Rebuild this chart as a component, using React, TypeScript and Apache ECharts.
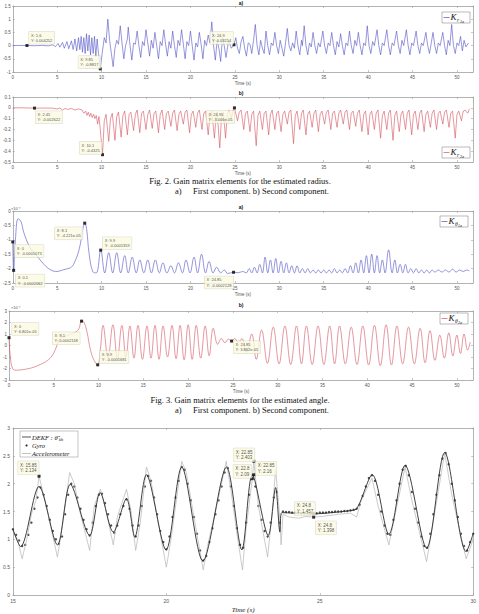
import React, { useEffect, useRef } from "react";
import * as echarts from "echarts";

const W = 479;
const H = 614;

// Fig. 2 a) radius gain, first component K_r1a  [time s, gain]
const kR1a: number[][] = [
  [0,0],[0.8,0.005],[1.6,0.004252],[2.5,-0.005],[3.3,0.01],[4.0,-0.01],[4.5,0.03],[4.8,-0.04],[5.1,0.08],[5.3,-0.06],[5.6,0.12],[5.8,-0.1],[6.1,0.15],[6.3,-0.12],[6.6,0.18],[6.8,-0.15],[7.0,0.25],[7.2,-0.2],[7.4,0.3],[7.55,-0.15],[7.7,0.35],[7.85,-0.25],[8.0,0.3],[8.15,-0.3],[8.3,0.45],[8.45,-0.2],[8.6,0.4],[8.75,-0.35],[8.9,0.3],[9.05,-0.3],[9.2,0.35],[9.35,-0.4],[9.5,0.25],[9.65,-0.3],[9.85,-0.8817],[10.1,-0.2],[10.3,0.3],[10.5,0.1],[10.7,1.0],[10.9,0.2],[11.1,-0.3],[11.3,-0.8],[11.5,-0.1],[11.7,0.2],[11.9,0.05],[12.1,0.75],[12.3,0.1],[12.5,-0.5],[12.7,0.0],[12.9,0.25],[13.0,0.7],[13.2,0.0],[13.4,-0.55],[13.6,0.1],[13.8,0.05],[14.0,0.55],[14.2,0.0],[14.4,-0.45],[14.6,0.15],[14.8,0.0],[15.0,0.6],[15.2,0.1],[15.4,-0.4],[15.6,0.2],[15.8,-0.1],[16.0,0.5],[16.2,0.0],[16.4,-0.5],[16.6,0.15],[16.8,0.0],[17.0,0.6],[17.2,0.05],[17.4,-0.4],[17.6,0.15],[17.8,-0.1],[18.0,0.55],[18.2,0.0],[18.4,-0.45],[18.6,0.2],[18.8,0.0],[19.0,0.6],[19.2,0.05],[19.4,-0.5],[19.6,0.15],[19.8,0.0],[20.0,0.55],[20.2,0.0],[20.4,-0.55],[20.6,0.1],[20.8,-0.05],[21.0,0.5],[21.2,0.05],[21.4,-0.5],[21.6,0.2],[21.8,0.0],[22.0,0.4],[22.2,0.1],[22.4,0.9],[22.6,0.0],[22.8,-0.55],[23.0,0.2],[23.2,-0.1],[23.4,-0.6],[23.6,0.3],[23.8,0.0],[24.0,-0.45],[24.3,0.2],[24.6,-0.1],[24.9,0.03214],[25.1,0.3],[25.3,-0.1],[25.5,-0.3],[25.7,0.15],[25.9,0.35],[26.1,-0.1],[26.3,-0.4],[26.5,0.1],[26.7,0.05],[26.9,-0.3],[27.1,0.2],[27.3,0.8],[27.5,0.0],[27.7,-0.35],[27.9,0.2],[28.1,-0.1],[28.3,-0.3],[28.5,0.55],[28.7,0.0],[28.9,-0.35],[29.1,0.1],[29.3,0.0],[29.5,0.5],[29.7,0.0],[29.9,-0.3],[30.1,0.2],[30.3,-0.1],[30.5,-0.4],[30.7,0.1],[30.9,0.65],[31.1,0.0],[31.3,-0.2],[31.5,0.1],[31.7,-0.1],[31.9,0.55],[32.1,0.0],[32.3,-0.35],[32.5,0.2],[32.6,0.0],[32.8,0.75],[33.0,0.0],[33.2,-0.35],[33.4,0.1],[33.6,-0.05],[33.8,0.5],[34.0,0.0],[34.2,-0.3],[34.4,0.1],[34.6,-0.05],[34.9,0.55],[35.1,0.0],[35.3,-0.3],[35.5,0.1],[35.7,0.0],[35.9,0.5],[36.1,0.0],[36.3,-0.35],[36.5,0.15],[36.7,-0.05],[36.9,0.45],[37.1,0.0],[37.3,-0.35],[37.5,0.1],[37.7,0.0],[37.9,0.55],[38.1,0.0],[38.3,-0.3],[38.5,0.2],[38.7,0.0],[38.9,0.5],[39.1,0.0],[39.3,-0.35],[39.5,0.1],[39.7,0.0],[39.9,0.75],[40.1,0.0],[40.3,-0.3],[40.5,0.15],[40.7,0.0],[41.0,0.6],[41.2,0.0],[41.4,-0.35],[41.6,0.1],[41.8,0.0],[42.1,0.6],[42.3,0.0],[42.5,-0.35],[42.7,0.1],[42.9,0.0],[43.2,0.55],[43.4,0.0],[43.6,-0.3],[43.8,0.2],[44.0,0.0],[44.3,0.6],[44.5,0.0],[44.7,-0.35],[44.9,0.1],[45.1,0.0],[45.4,0.55],[45.6,0.0],[45.8,-0.3],[46.0,0.1],[46.2,0.0],[46.5,0.5],[46.7,0.0],[46.9,-0.3],[47.1,0.1],[47.3,0.5],[47.5,0.0],[47.7,-0.3],[47.9,0.1],[48.1,0.0],[48.4,0.5],[48.6,0.0],[48.8,-0.35],[49.0,0.2],[49.2,0.0],[49.4,0.8],[49.6,0.0],[49.8,-0.3],[50.0,0.1],[50.2,0.0],[50.4,0.35],[50.6,-0.2],[50.8,0.2],[51.0,-0.05],[51.3,0.1],
];

// Fig. 2 b) radius gain, second component K_r2a
const kR2a: number[][] = [
  [0,0],[1,0],[2.45,-0.002622],[3.5,-0.002],[4.5,-0.003],[5.0,-0.01],[5.3,-0.002],[5.6,-0.02],[5.9,-0.005],[6.2,-0.015],[6.6,-0.005],[7.0,-0.02],[7.4,-0.01],[7.8,-0.02],[8.0,-0.05],[8.2,-0.03],[8.35,-0.07],[8.5,-0.04],[8.65,-0.08],[8.8,-0.05],[8.95,-0.09],[9.1,-0.06],[9.25,-0.1],[9.4,-0.07],[9.55,-0.15],[9.7,-0.08],[9.85,-0.2],
  [10.1,-0.4325],[10.3,-0.12],[10.5,-0.06],[10.8,-0.31],[11.0,-0.1],[11.2,-0.05],[11.5,-0.3],[11.7,-0.08],[11.9,-0.04],[12.2,-0.27],[12.4,-0.07],[12.6,-0.03],[12.9,-0.25],[13.1,-0.06],[13.3,-0.04],[13.6,-0.21],[13.8,-0.06],[14.0,-0.02],[14.3,-0.23],[14.5,-0.05],[14.7,-0.03],[15.0,-0.2],[15.2,-0.06],[15.4,-0.02],[15.7,-0.19],[15.9,-0.05],[16.1,-0.03],[16.4,-0.23],[16.6,-0.06],[16.8,-0.02],[17.1,-0.2],[17.3,-0.05],[17.5,-0.03],[17.8,-0.17],[18.0,-0.05],[18.2,-0.02],[18.5,-0.21],[18.7,-0.06],[18.9,-0.03],[19.2,-0.15],[19.4,-0.04],[19.6,-0.02],[19.9,-0.23],[20.1,-0.06],[20.3,-0.03],[20.6,-0.18],[20.8,-0.05],[21.0,-0.02],[21.3,-0.2],[21.5,-0.05],[21.7,-0.03],[22.0,-0.25],[22.2,-0.07],[22.4,-0.03],[22.7,-0.28],[22.9,-0.06],[23.0,-0.04],[23.3,-0.37],[23.5,-0.08],[23.7,-0.04],[23.95,-0.28],[24.15,-0.06],[24.35,-0.02],[24.6,-0.1],[24.8,-0.02],[24.95,-0.00003006],
  [25.3,-0.12],[25.5,-0.04],[25.7,-0.02],[26.0,-0.2],[26.2,-0.05],[26.4,-0.03],[26.7,-0.22],[26.9,-0.06],[27.1,-0.03],[27.4,-0.35],[27.6,-0.07],[27.8,-0.03],[28.1,-0.2],[28.3,-0.05],[28.5,-0.03],[28.8,-0.25],[29.0,-0.06],[29.2,-0.02],[29.5,-0.2],[29.7,-0.05],[29.9,-0.03],[30.2,-0.22],[30.4,-0.06],[30.6,-0.03],[30.9,-0.15],[31.1,-0.04],[31.3,-0.02],[31.6,-0.33],[31.8,-0.07],[32.0,-0.03],[32.3,-0.2],[32.5,-0.05],[32.7,-0.02],[33.0,-0.25],[33.2,-0.06],[33.4,-0.03],[33.7,-0.18],[33.9,-0.05],[34.1,-0.02],[34.4,-0.22],[34.6,-0.06],[34.8,-0.03],[35.1,-0.15],[35.3,-0.04],[35.5,-0.02],[35.8,-0.2],[36.0,-0.05],[36.2,-0.03],[36.5,-0.18],[36.7,-0.05],[36.9,-0.02],[37.2,-0.15],[37.4,-0.04],[37.6,-0.02],[37.9,-0.2],[38.1,-0.05],[38.3,-0.03],[38.6,-0.17],[38.8,-0.05],[39.0,-0.02],[39.3,-0.22],[39.5,-0.06],[39.7,-0.03],[40.0,-0.25],[40.2,-0.06],[40.4,-0.03],[40.7,-0.2],[40.9,-0.05],[41.1,-0.02],[41.4,-0.28],[41.6,-0.07],[41.8,-0.03],[42.1,-0.2],[42.3,-0.05],[42.5,-0.02],[42.8,-0.3],[43.0,-0.07],[43.2,-0.03],[43.5,-0.22],[43.7,-0.06],[43.9,-0.03],[44.2,-0.2],[44.4,-0.05],[44.6,-0.02],[44.9,-0.25],[45.1,-0.06],[45.3,-0.03],[45.6,-0.2],[45.8,-0.05],[46.0,-0.02],[46.3,-0.22],[46.5,-0.06],[46.7,-0.03],[47.0,-0.18],[47.2,-0.05],[47.4,-0.02],[47.7,-0.2],[47.9,-0.05],[48.1,-0.03],[48.4,-0.15],[48.6,-0.04],[48.8,-0.02],[49.1,-0.18],[49.3,-0.05],[49.5,-0.03],[49.8,-0.28],[50.0,-0.06],[50.2,-0.03],[50.5,-0.12],[50.7,-0.03],[50.9,-0.02],[51.2,-0.05],[51.4,-0.01],
];

// Fig. 3 a) angle gain, first component K_theta1a, in units of 1e-4
const kTh1a: number[][] = [
  [0,-1.073],[0.1,-2.062],[0.3,-1.0],[0.6,-0.27],[0.9,-0.35],[1.3,-0.8],[2.0,-1.3],[2.7,-1.55],[3.5,-1.85],[4.3,-2.05],[5.0,-2.1],[5.6,-2.05],[6.2,-2.0],[6.6,-1.95],[7.0,-1.75],[7.5,-1.3],[7.9,-0.6],[8.1,-0.4221],[8.3,-0.6],[8.6,-1.5],[9.0,-2.1],[9.4,-2.15],[9.9,-1.359],[10.35,-2.15],[10.8,-1.45],[11.25,-2.15],[11.7,-1.45],[12.15,-2.15],[12.6,-1.55],[13.0,-2.15],[13.45,-1.6],[13.9,-2.15],[14.3,-1.7],[14.75,-2.15],[15.2,-1.7],[15.6,-2.15],[16.05,-1.7],[16.5,-2.15],[16.9,-1.8],[17.35,-2.15],[17.8,-1.9],[18.2,-2.15],[18.65,-1.8],[19.1,-2.15],[19.5,-1.7],[19.95,-2.15],[20.4,-1.6],[20.8,-2.15],[21.25,-1.5],[21.7,-2.15],[22.1,-1.75],[22.55,-2.15],[22.95,-1.95],[23.4,-2.15],[23.8,-2.05],[24.2,-2.17],[24.85,-2.128],[25.4,-2.14],[25.9,-2.1],[26.3,-2.15],[26.6,-2.0],[26.9,-2.15],[27.2,-1.95],[27.5,-2.15],[27.8,-1.85],[28.1,-2.15],[28.4,-1.6],[28.7,-2.15],[29.0,-1.7],[29.3,-2.15],[29.6,-1.65],[29.9,-2.15],[30.2,-1.75],[30.5,-2.15],[30.8,-1.8],[31.1,-2.15],[31.4,-1.9],[31.7,-2.15],[32.0,-1.9],[32.3,-2.15],[32.6,-2.0],[32.9,-2.15],[33.2,-2.0],[33.5,-2.15],[33.8,-2.05],[34.1,-2.15],[34.4,-2.05],[34.7,-2.15],[35.0,-2.05],[35.3,-2.15],[35.6,-2.05],[35.9,-2.15],[36.2,-2.0],[36.5,-2.15],[36.8,-2.05],[37.1,-2.15],[37.4,-2.0],[37.7,-2.15],[38.0,-1.9],[38.3,-2.15],[38.6,-1.8],[38.9,-2.15],[39.2,-1.7],[39.5,-2.15],[39.8,-1.55],[40.1,-2.15],[40.4,-1.5],[40.7,-2.15],[41.0,-1.55],[41.3,-2.15],[41.6,-1.7],[41.9,-2.15],[42.3,-1.35],[42.7,-2.15],[43.0,-1.7],[43.3,-2.15],[43.6,-1.85],[43.9,-2.15],[44.2,-1.85],[44.5,-2.15],[44.8,-2.0],[45.1,-2.15],[45.4,-2.0],[45.7,-2.15],[46.0,-2.05],[46.3,-2.15],[46.6,-2.05],[46.9,-2.15],[47.2,-2.05],[47.5,-2.12],[47.9,-2.05],[48.3,-2.12],[48.7,-2.05],[49.1,-2.12],[49.5,-2.02],[49.9,-2.12],[50.3,-2.05],[50.7,-2.1],[51.1,-2.05],[51.4,-2.08],
];

// Fig. 3 b) angle gain, second component K_theta2a, in units of 1e-4
const kTh2a: number[][] = [
  [0,0.6801],[0.15,-1.0],[0.4,-2.0],[0.8,-2.15],[1.5,-2.1],[2.5,-1.95],[3.5,-1.65],[4.3,-1.3],[4.8,-0.9],[5.2,-0.3],[5.5,0.3],[5.9,0.7],[6.5,0.85],[7.0,1.0],[7.5,1.2],[7.8,1.45],[8.1,2.118],[8.35,2.05],[8.7,1.2],[9.1,-0.4],[9.5,-1.3],[9.9,-1.681],[10.2,-0.3],[10.5,1.75],[11.05,-1.1],[11.6,1.8],[12.1,-1.2],[12.6,1.75],[13.05,-1.0],[13.5,1.7],[13.95,-1.1],[14.4,1.75],[14.9,-1.2],[15.4,1.7],[15.85,-1.1],[16.3,1.75],[16.75,-1.2],[17.2,1.7],[17.7,-1.0],[18.2,1.75],[18.65,-1.15],[19.1,1.75],[19.55,-1.25],[20.0,1.8],[20.45,-1.2],[20.9,1.75],[21.4,-1.1],[21.9,1.7],[22.35,-0.9],[22.8,1.5],[23.3,0.1],[23.7,0.6],[24.1,0.25],[24.5,0.55],[24.85,0.3862],[25.2,0.6],[25.6,0.3],[26.0,0.6],[26.5,-0.6],[27.1,1.0],[27.6,-1.2],[28.2,1.35],[28.85,-1.55],[29.5,1.6],[30.15,-1.6],[30.8,1.7],[31.45,-1.65],[32.1,1.7],[32.65,-1.6],[33.2,1.7],[33.85,-1.65],[34.5,1.7],[35.15,-1.65],[35.8,1.7],[36.35,-1.6],[36.9,1.7],[37.55,-1.6],[38.2,1.6],[38.85,-1.65],[39.5,1.7],[40.15,-1.7],[40.8,1.75],[41.45,-1.75],[42.1,1.8],[42.7,-1.7],[43.3,1.7],[43.95,-1.6],[44.6,1.6],[45.25,-1.6],[45.9,1.5],[46.45,-1.5],[47.0,1.3],[47.55,-1.3],[48.1,0.9],[48.6,-1.1],[49.1,1.1],[49.55,-0.9],[50.0,0.9],[50.4,-0.7],[50.8,1.0],[51.2,-0.4],[51.5,0.3],
];

// Angle estimate: DEKF output [time s, rad]
const dekf: number[][] = [
  [15.0,1.18],[15.25,0.87],[15.85,1.95],[16.45,0.9],[16.87,1.99],[17.5,1.07],[17.84,1.84],[18.27,1.13],[18.7,1.73],[18.97,1.04],[19.35,2.16],[19.99,0.81],[20.5,2.3],[21.19,0.61],[21.96,2.3],[22.46,0.81],[22.8,2.16],[23.32,1.07],[23.56,1.93],[23.7,1.13],[23.76,1.48],[24.2,1.47],[24.8,1.457],[25.4,1.48],[25.9,1.51],[26.2,1.55],[26.71,2.16],[27.25,1.09],[27.78,2.33],[28.48,0.84],[29.07,2.56],[29.77,0.78],[30.0,1.1],
];

// Gyro-based angle, sampled every 0.1 s from 15 s
const GYRO_T0 = 15;
const GYRO_DT = 0.1;
const gyro: number[] = [
  1.18,1.08,0.98,0.88,0.9,1.08,1.3,1.55,1.75,1.93,
  1.8,1.6,1.35,1.15,1.0,0.92,1.05,1.45,1.8,2.0,
  1.95,1.75,1.55,1.35,1.18,1.07,1.3,1.6,1.8,1.82,
  1.65,1.45,1.25,1.12,1.25,1.45,1.6,1.72,1.55,1.25,
  1.05,1.25,1.6,1.95,2.14,2.05,1.75,1.45,1.15,0.95,
  0.82,1.05,1.4,1.75,2.05,2.3,2.25,2.0,1.7,1.4,
  1.1,0.8,0.62,0.7,0.95,1.2,1.45,1.7,1.95,2.2,
  2.28,1.95,1.6,1.2,0.9,0.85,1.3,1.8,2.15,1.95,
  1.6,1.35,1.15,1.05,1.3,1.75,1.85,1.3,1.5,1.49,
  1.49,1.48,1.48,1.48,1.47,1.47,1.47,1.46,1.47,1.47,
  1.48,1.48,1.48,1.49,1.49,1.5,1.5,1.5,1.51,1.51,
  1.52,1.53,1.55,1.62,1.78,1.95,2.1,2.15,2.05,1.8,
  1.5,1.25,1.1,1.08,1.35,1.7,2.0,2.25,2.32,2.15,
  1.85,1.55,1.3,1.05,0.88,0.85,1.1,1.45,1.8,2.15,
  2.45,2.55,2.35,2.0,1.7,1.4,1.1,0.88,0.8,0.95,
  1.1,
];

// Accelerometer-based angle [time s, rad]
const accel: number[][] = [
  [15.0,1.15],[15.15,1.0],[15.3,0.65],[15.45,1.0],[15.6,1.45],[15.75,1.7],[15.85,2.134],[16.0,1.8],[16.2,1.3],[16.45,0.68],[16.6,1.2],[16.85,2.2],[17.0,2.0],[17.2,1.45],[17.5,0.8],[17.65,1.6],[17.85,1.9],[18.0,1.6],[18.27,0.9],[18.4,1.4],[18.7,1.9],[18.85,1.5],[19.0,0.8],[19.15,1.3],[19.35,2.3],[19.5,2.05],[19.7,1.4],[20.0,0.5],[20.15,1.0],[20.5,2.4],[20.65,2.2],[20.9,1.4],[21.2,0.45],[21.35,0.9],[21.7,1.75],[21.95,2.4],[22.1,1.9],[22.3,1.1],[22.48,0.45],[22.6,1.2],[22.8,2.09],[22.85,2.403],[23.0,1.6],[23.3,0.68],[23.45,1.5],[23.56,2.25],[23.68,1.5],[23.74,0.9],[23.8,1.45],[24.0,1.4],[24.3,1.38],[24.55,1.41],[24.8,1.398],[25.2,1.42],[25.6,1.45],[26.0,1.47],[26.2,1.4],[26.35,1.7],[26.7,2.1],[26.9,1.6],[27.25,0.9],[27.4,1.3],[27.78,2.3],[28.0,1.7],[28.48,0.6],[28.6,1.0],[29.07,2.55],[29.3,1.8],[29.77,0.65],[30.0,1.0],
];

// Data tips: [x, y, text, box dx, box dy]
type Tip = [number, number, string, number, number];
const tipsR1a: Tip[] = [
  [1.6, 0.004252, "X: 1.6\nY: 0.004252", 2, -14],
  [9.85, -0.8817, "X: 9.85\nY: -0.8817", -22, -13],
  [24.9, 0.03214, "X: 24.9\nY: 0.03214", -24, -13],
];
const tipsR2a: Tip[] = [
  [2.45, -0.002622, "X: 2.45\nY: -0.002622", 1, 3],
  [10.1, -0.4325, "X: 10.1\nY: -0.4325", -23, -13],
  [24.95, -0.00003006, "X: 24.95\nY: -3.006e-05", -28, 3],
];
const tipsTh1a: Tip[] = [
  [0, -1.073, "X: 0\nY: -0.0001073", 2, 3],
  [0.1, -2.062, "X: 0.1\nY: -0.0002062", 2, 4],
  [8.1, -0.4221, "X: 8.1\nY: -4.221e-05", -30, 4],
  [9.9, -1.359, "X: 9.9\nY: -0.0001359", 2, -13],
  [24.85, -2.128, "X: 24.85\nY: -0.0002128", -29, 4],
];
const tipsTh2a: Tip[] = [
  [0, 0.6801, "X: 0\nY: 6.801e-05", 3, -15],
  [8.1, 2.118, "X: 8.1\nY: 0.0002118", -29, 11],
  [9.9, -1.681, "X: 9.9\nY: -0.0001681", 2, -14],
  [24.85, 0.3862, "X: 24.85\nY: 3.862e-05", 2, 0],
];
const tipsAngle: Tip[] = [
  [15.85, 2.134, "X: 15.85\nY: 2.134", -21, -15],
  [22.85, 2.403, "X: 22.85\nY: 2.403", -20, -13],
  [22.8, 2.09, "X: 22.8\nY: 2.09", -19, -14],
  [22.85, 2.16, "X: 22.85\nY: 2.16", 2, -13],
  [24.8, 1.457, "X: 24.8\nY: 1.457", -19, -12],
  [24.8, 1.398, "X: 24.8\nY: 1.398", 2, 4],
];

const BLUE = "#5050c4";
const RED = "#d4535e";
const AXIS = "#a0a0a0";
const TICKTXT = "#555";
const SANS = "Liberation Sans";
const SERIF = "Liberation Serif";

const grids = [
  { left: 9, top: 6, width: 464, height: 66 },
  { left: 9, top: 97, width: 464, height: 65 },
  { left: 9, top: 211, width: 464, height: 72 },
  { left: 9, top: 311, width: 464, height: 69 },
  { left: 12, top: 428, width: 466, height: 174 },
];

function xAxesFor(g: number, min: number, max: number, interval: number, fs: number, nameStyle: any, nameGap: number) {
  const common = {
    type: "value", gridIndex: g, min, max, interval,
    axisLine: { show: true, onZero: false, lineStyle: { color: AXIS, width: 0.8 } },
    axisTick: { inside: true, length: 2, lineStyle: { color: AXIS, width: 0.6 } },
    splitLine: { show: false },
  };
  return [
    {
      ...common, position: "bottom",
      axisLabel: { fontSize: fs, color: TICKTXT, margin: 3, fontFamily: SANS, showMaxLabel: max % interval === 0 },
      name: "Time (s)", nameLocation: "middle", nameGap, nameTextStyle: nameStyle,
    },
    { ...common, position: "top", axisLabel: { show: false } },
  ];
}

function yAxesFor(g: number, min: number, max: number, interval: number, fs: number, margin: number) {
  const common = {
    type: "value", gridIndex: g, min, max, interval,
    axisLine: { show: true, onZero: false, lineStyle: { color: AXIS, width: 0.8 } },
    axisTick: { inside: true, length: 2, lineStyle: { color: AXIS, width: 0.6 } },
    splitLine: { show: false },
  };
  return [
    { ...common, position: "left", axisLabel: { fontSize: fs, color: TICKTXT, margin, fontFamily: SANS } },
    { ...common, position: "right", axisLabel: { show: false } },
  ];
}

function tipSeries(g: number, tips: Tip[], fs: number) {
  return {
    type: "scatter", xAxisIndex: 2 * g, yAxisIndex: 2 * g, z: 10,
    symbol: "rect", symbolSize: 3, itemStyle: { color: "#000" },
    data: tips.map(([x, y, text, dx, dy]) => ({
      value: [x, y], tip: text,
      label: { position: [dx + 1.5, dy + 1.5] },
    })),
    label: {
      show: true, formatter: (p: any) => p.data.tip,
      fontSize: fs, lineHeight: fs + 1.2, color: "#222", fontFamily: SANS,
      backgroundColor: "#fafae2", borderColor: "#c9c9b0", borderWidth: 0.4,
      padding: [1, 2], align: "left", verticalAlign: "top",
    },
  };
}

function lineSeries(g: number, data: number[][], color: string, smooth: number | boolean, width = 0.6) {
  return {
    type: "line", xAxisIndex: 2 * g, yAxisIndex: 2 * g, data,
    showSymbol: false, smooth, lineStyle: { color, width },
  };
}

function txt(x: number, y: number, text: string, fontSize: number, extra: any = {}) {
  return {
    type: "text", x, y, z: 100,
    style: {
      text, fontSize, fontFamily: extra.fontFamily || SERIF, fontStyle: extra.fontStyle || "normal",
      fontWeight: extra.fontWeight || "normal", fill: extra.fill || "#111",
      textAlign: extra.align || "left", textVerticalAlign: extra.valign || "middle",
    },
  };
}

// small MATLAB-style legend box with a K gain symbol
function kLegend(x: number, y: number, color: string, sub1: string, sub2: string) {
  return [
    { type: "rect", z: 100, shape: { x, y, width: 28, height: 11 }, style: { fill: "#fff", stroke: "#777", lineWidth: 0.5 } },
    { type: "line", z: 101, shape: { x1: x + 1.5, y1: y + 5.5, x2: x + 7.5, y2: y + 5.5 }, style: { stroke: color, lineWidth: 0.7 } },
    txt(x + 8.5, y + 5.3, "K", 9, { fontStyle: "italic" }),
    txt(x + 15, y + 7.6, sub1, 5.5, { fontStyle: "italic" }),
    txt(x + 18, y + 9, sub2, 4, { fontStyle: "italic" }),
  ];
}

const caption = (y: number, text: string) => [
  txt(240, y, text, 8.5, { align: "center" }),
  txt(175, y + 10, "a)", 8.5),
  txt(193, y + 10, "First component. b) Second component.", 8.5),
];

export default function App() {
  const ref = useRef<HTMLDivElement>(null);

  useEffect(() => {
    if (!ref.current) return;
    const chart = echarts.init(ref.current, null, { renderer: "svg", width: W, height: H });

    const smallName = { fontSize: 4.5, color: TICKTXT, fontFamily: SANS };
    const bigName = { fontSize: 7, color: "#222222", fontFamily: SERIF, fontStyle: "italic" };

    const xAxis = [
      ...xAxesFor(0, 0, 51.8, 5, 4.5, smallName, 6.5),
      ...xAxesFor(1, 0, 51.8, 5, 4.5, smallName, 6.5),
      ...xAxesFor(2, 0, 51.8, 5, 4.5, smallName, 6.5),
      ...xAxesFor(3, 0, 51.8, 5, 4.5, smallName, 6.5),
      ...xAxesFor(4, 15, 30, 5, 5, bigName, 11),
    ];
    const yAxis = [
      ...yAxesFor(0, -1, 1.5, 0.5, 4.5, 2),
      ...yAxesFor(1, -0.5, 0.1, 0.1, 4.5, 2),
      ...yAxesFor(2, -2.5, 0, 0.5, 4.5, 2),
      ...yAxesFor(3, -3, 3, 1, 4.5, 2),
      ...yAxesFor(4, 0, 3, 0.5, 5, 3),
    ];

    const gyroData = gyro.map((v, i) => [GYRO_T0 + i * GYRO_DT, v]);

    const series: any[] = [
      lineSeries(0, kR1a, BLUE, false),
      lineSeries(1, kR2a, RED, false),
      lineSeries(2, kTh1a, BLUE, 0.4),
      lineSeries(3, kTh2a, RED, 0.4),
      lineSeries(4, accel, "#b4b4b4", false, 0.7),
      lineSeries(4, dekf, "#2a2a2a", 0.3, 0.9),
      {
        type: "scatter", xAxisIndex: 8, yAxisIndex: 8, data: gyroData,
        symbol: "circle", symbolSize: 2.4, itemStyle: { color: "#222" },
      },
      tipSeries(0, tipsR1a, 4),
      tipSeries(1, tipsR2a, 4),
      tipSeries(2, tipsTh1a, 4),
      tipSeries(3, tipsTh2a, 4),
      tipSeries(4, tipsAngle, 4.5),
    ];

    const graphic: any[] = [
      txt(241, 3, "a)", 5, { fontFamily: SANS, fontWeight: "bold", align: "center" }),
      txt(241, 93, "b)", 5, { fontFamily: SANS, fontWeight: "bold", align: "center" }),
      txt(241, 207, "a)", 5, { fontFamily: SANS, fontWeight: "bold", align: "center" }),
      txt(241, 305, "b)", 5, { fontFamily: SANS, fontWeight: "bold", align: "center" }),
      txt(11, 208, "×10⁻⁴", 4, { fontFamily: SANS, fill: TICKTXT }),
      txt(11, 307, "×10⁻⁴", 4, { fontFamily: SANS, fill: TICKTXT }),
      ...caption(181, "Fig. 2. Gain matrix elements for the estimated radius."),
      ...caption(400, "Fig. 3. Gain matrix elements for the estimated angle."),
      ...kLegend(442, 12, BLUE, "r", "1a"),
      ...kLegend(442, 147, RED, "r", "2a"),
      ...kLegend(440, 216, BLUE, "θ", "1a"),
      ...kLegend(440, 313, RED, "θ", "2a"),
      // legend of the angle comparison plot
      { type: "rect", z: 100, shape: { x: 20, y: 431, width: 58, height: 26 }, style: { fill: "#fff", stroke: "#888", lineWidth: 0.5 } },
      { type: "line", z: 101, shape: { x1: 22, y1: 437, x2: 31, y2: 437 }, style: { stroke: "#2a2a2a", lineWidth: 0.8 } },
      txt(32, 437, "DEKF : θ̂", 6.5, { fontStyle: "italic" }),
      txt(59, 439, "kh", 4.5, { fontStyle: "italic" }),
      { type: "circle", z: 101, shape: { cx: 26.5, cy: 445.5, r: 1 }, style: { fill: "#2a2a2a" } },
      txt(32, 445.5, "Gyro", 6.5, { fontStyle: "italic" }),
      { type: "line", z: 101, shape: { x1: 22, y1: 453.5, x2: 31, y2: 453.5 }, style: { stroke: "#b4b4b4", lineWidth: 0.8 } },
      txt(32, 453.5, "Accelerometer", 6.5, { fontStyle: "italic" }),
    ];

    chart.setOption({
      animation: false,
      backgroundColor: "#fff",
      grid: grids,
      xAxis,
      yAxis,
      series,
      graphic,
    });

    return () => chart.dispose();
  }, []);

  return (
    <div
      ref={ref}
      style={{ position: "absolute", left: 0, top: 0, width: W, height: H, background: "#fff" }}
    />
  );
}
